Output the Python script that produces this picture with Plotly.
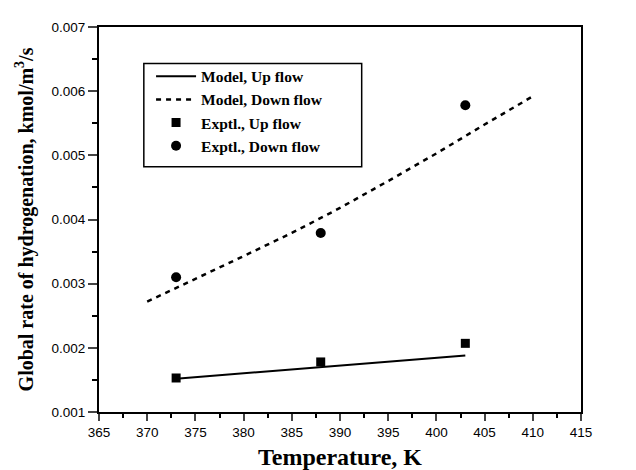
import plotly.graph_objects as go

# Data
model_up_x = [373, 388, 403]
model_up_y = [0.00152, 0.00170, 0.00188]

model_down_x = [370, 375, 380, 385, 390, 395, 400, 405, 410]
model_down_y = [0.00272, 0.00307, 0.00343, 0.00379, 0.00418, 0.00460, 0.00503, 0.00548, 0.00592]

exp_up_x = [373, 388, 403]
exp_up_y = [0.00153, 0.00178, 0.00207]

exp_down_x = [373, 388, 403]
exp_down_y = [0.00310, 0.00379, 0.00578]

x_ticks = [365, 370, 375, 380, 385, 390, 395, 400, 405, 410, 415]
y_ticks = [0.001, 0.002, 0.003, 0.004, 0.005, 0.006, 0.007]

serif = "Liberation Serif, Times New Roman, serif"
sans = "Liberation Sans, Arial, sans-serif"

fig = go.Figure()
fig.add_trace(go.Scatter(x=model_up_x, y=model_up_y, mode="lines", name="<b>Model, Up flow</b>",
                         line=dict(color="black", width=2), legendgroup="a"))
fig.add_trace(go.Scatter(x=model_down_x, y=model_down_y, mode="lines", name="<b>Model, Down flow</b>",
                         line=dict(color="black", width=2.5, dash="5px,5px"), legendgroup="b"))
fig.add_trace(go.Scatter(x=exp_up_x, y=exp_up_y, mode="markers", name="<b>Exptl., Up flow</b>",
                         marker=dict(symbol="square", size=9, color="black"), legendgroup="c"))
fig.add_trace(go.Scatter(x=exp_down_x, y=exp_down_y, mode="markers", name="<b>Exptl., Down flow</b>",
                         marker=dict(symbol="circle", size=10, color="black"), legendgroup="d"))

fig.update_layout(
    width=636, height=470,
    margin=dict(l=91, r=63, t=16, b=66),
    plot_bgcolor="white", paper_bgcolor="white",
    showlegend=True,
    legend=dict(x=0.108, y=0.915, xanchor="left", yanchor="top",
                bgcolor="rgba(0,0,0,0)", borderwidth=0,
                font=dict(family=serif, size=15.5, color="black"),
                itemwidth=40, traceorder="grouped", tracegroupgap=0),
    shapes=[dict(type="rect", xref="paper", yref="paper",
                 x0=0.093, x1=0.545, y0=0.637, y1=0.905,
                 line=dict(color="black", width=1.5))],
)
fig.update_xaxes(range=[365, 415], tickvals=x_ticks, ticks="outside", ticklen=7, tickwidth=2,
                 showline=True, linecolor="black", linewidth=2, mirror=True, showgrid=False,
                 zeroline=False, tickfont=dict(family=sans, size=13.5, color="black"),
                 minor=dict(dtick=2.5, ticks="outside", ticklen=4, tickwidth=2, tickcolor="black"),
                 title=dict(text="<b>Temperature, K</b>", font=dict(family=serif, size=24, color="black"),
                            standoff=9))
fig.update_yaxes(range=[0.001, 0.007], tickvals=y_ticks, tickformat=".3f", ticks="outside", ticklen=9,
                 tickwidth=2, showline=True, linecolor="black", linewidth=2, mirror=True,
                 showgrid=False, zeroline=False, tickfont=dict(family=sans, size=13.5, color="black"),
                 minor=dict(dtick=0.0005, ticks="outside", ticklen=5, tickwidth=2, tickcolor="black"),
                 title=dict(text="<b>Global rate of hydrogenation, kmol/m<sup>3</sup>/s</b>",
                            font=dict(family=serif, size=20, color="black"), standoff=13))

fig.write_html("out.html")
